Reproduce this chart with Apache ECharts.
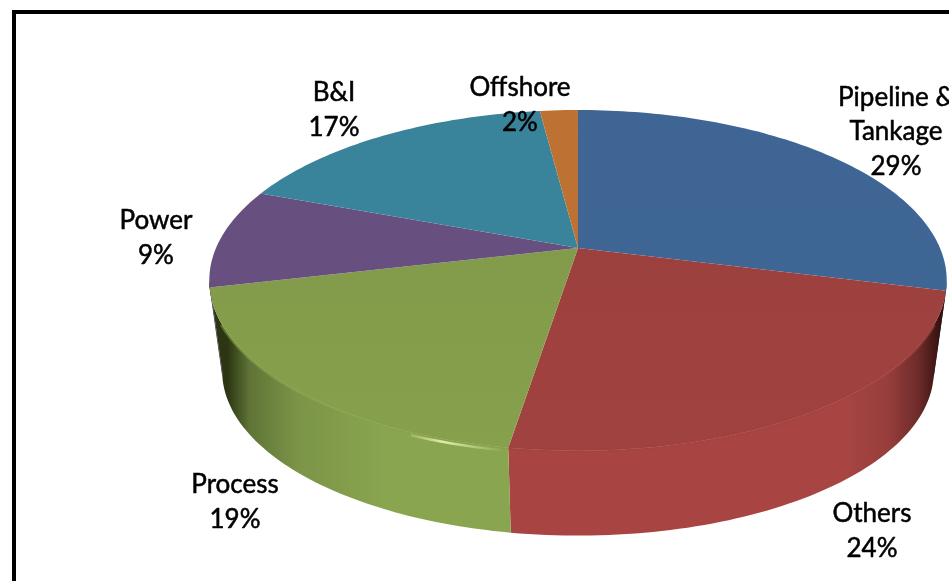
<!DOCTYPE html>
<html>
<head>
<meta charset="utf-8">
<title>Sector share</title>
<script src="https://cdn.jsdelivr.net/npm/echarts@6/dist/echarts.min.js"></script>
<style>
    html, body { margin: 0; padding: 0; background: #fff; overflow: hidden; }
    #main { width: 949px; height: 581px; }
</style>
</head>
<body>
<div id="main"></div>
<script>
    // clockwise from 12 o'clock, shares
    var names = ['Pipeline &\nTankage', 'Others', 'Process', 'Power', 'B&I', 'Offshore'];
    var shares = [29, 23.5, 18.8, 9.45, 17.25, 2];

    var topBack = ['#3e6593', '#9a3f3d', '#80984a', '#67507f', '#3a849b', '#bd7233'];
    var topFront = ['#3f6797', '#a04240', '#86a04c', '#67507f', '#3a849b', '#bd7233'];
    var wallLight = ['#3f6797', '#a84543', '#8aa550', '#67507f', '#3a849b', '#bd7233'];
    var wallSoft = ['#37597f', '#973e3c', '#7b9447', '#5a4670', '#33758a', '#a8652d'];
    var wallMid = ['#2e4b70', '#6f2c2a', '#5f7436', '#4a3a5c', '#2a6070', '#8a5425'];
    var wallDark = ['#1d3250', '#36120f', '#2c3612', '#2e2338', '#173a44', '#5a3315'];

    // pie geometry: tilted disc seen in perspective
    var apexX = 578, apexY = 248;
    var radiusX = 362, radiusY = 164.2, tilt = 0.19;
    var wallDrop = 92, bottomScale = 0.965;
    var labelSpots = [[896, 132], [872, 531], [235, 502], [156, 238], [334, 110], [520, 105]];

    var rows = [];
    var sum = 0;
    shares.forEach(function (v, i) {
        rows.push([i, sum, sum + v]);
        sum += v;
    });

    function discPoint(pct, scale, drop) {
        var t = pct / 100 * Math.PI * 2;
        var d = 1 + tilt * Math.cos(t);
        return [
            apexX + scale * radiusX * Math.sin(t) / d,
            apexY + drop - scale * radiusY * Math.cos(t) / d
        ];
    }

    function arc(from, to, scale, drop) {
        var pts = [];
        var n = Math.max(2, Math.ceil((to - from) * 3));
        for (var i = 0; i <= n; i++) {
            pts.push(discPoint(from + (to - from) * i / n, scale, drop));
        }
        return pts;
    }

    function shade(stops, x1, y1, x2, y2) {
        return { type: 'linear', global: true, x: x1, y: y1, x2: x2, y2: y2, colorStops: stops };
    }

    function renderWall(params, api) {
        var i = api.value(0);
        // only the front of the disc has a visible side
        var limitA = Math.acos(-tilt) / (Math.PI * 2) * 100;
        var from = Math.max(api.value(1), limitA);
        var to = Math.min(api.value(2), 100 - limitA);
        if (i === 2) to = 100 - limitA;
        if (to <= from) return null;
        var pts = arc(from, to, 1, 0).concat(arc(from, to, bottomScale, wallDrop).reverse());
        var fill = shade([
            { offset: 0, color: wallDark[i] },
            { offset: 0.025, color: wallDark[i] },
            { offset: 0.055, color: wallMid[i] },
            { offset: 0.12, color: wallSoft[i] },
            { offset: 0.24, color: wallLight[i] },
            { offset: 0.86, color: wallLight[i] },
            { offset: 0.92, color: wallSoft[i] },
            { offset: 0.96, color: wallMid[i] },
            { offset: 0.99, color: wallDark[i] },
            { offset: 1, color: wallDark[i] }
        ], apexX - 369, 0, apexX + 369, 0);
        return { type: 'polygon', shape: { points: pts }, style: { fill: fill } };
    }

    function renderTop(params, api) {
        var i = api.value(0);
        var pts = [[apexX, apexY]].concat(arc(api.value(1), api.value(2), 1, 0));
        var fill = shade([
            { offset: 0, color: topBack[i] },
            { offset: 1, color: topFront[i] }
        ], 0, apexY - 140, 0, apexY + 205);
        return { type: 'polygon', shape: { points: pts }, style: { fill: fill } };
    }

    // soft bevel between the top face and the side
    function renderRim(params, api) {
        var i = api.value(0);
        var limitA = Math.acos(-tilt) / (Math.PI * 2) * 100 + 4;
        var from = Math.max(api.value(1), limitA);
        var to = Math.min(api.value(2), 100 - limitA);
        if (to <= from) return null;
        return {
            type: 'polyline',
            shape: { points: arc(from, to, 1, 0) },
            style: { fill: 'none', stroke: topFront[i], lineWidth: 4, opacity: 0.55 }
        };
    }

    function renderLabel(params, api) {
        var i = api.value(0);
        return {
            type: 'text',
            x: labelSpots[i][0],
            y: labelSpots[i][1],
            style: {
                text: names[i] + '\n' + Math.round(shares[i]) + '%',
                fill: '#000',
                stroke: '#000',
                lineWidth: 0.5,
                font: '26px Lato',
                lineHeight: 34.5,
                align: 'center',
                verticalAlign: 'middle'
            }
        };
    }

    var chart = echarts.init(document.getElementById('main'));
    chart.setOption({
        animation: false,
        backgroundColor: '#fff',
        graphic: [
            {
                type: 'rect',
                shape: { x: 14, y: 12, width: 960, height: 600 },
                style: { fill: 'none', stroke: '#000', lineWidth: 4 }
            },
            {
                // glint on the front rim of the green slice
                type: 'polyline',
                z: 10,
                shape: { points: arc(52.8, 56.2, 1, 3) },
                style: {
                    fill: 'none',
                    lineWidth: 2.5,
                    stroke: shade([
                        { offset: 0, color: 'rgba(225,238,170,0)' },
                        { offset: 0.7, color: 'rgba(228,240,175,0.95)' },
                        { offset: 1, color: 'rgba(225,238,170,0.3)' }
                    ], 505, 0, 415, 0)
                }
            }
        ],
        series: [
            { type: 'custom', coordinateSystem: 'none', data: rows, renderItem: renderWall, z: 2, silent: true },
            { type: 'custom', coordinateSystem: 'none', data: rows, renderItem: renderTop, z: 3, silent: true },
            { type: 'custom', coordinateSystem: 'none', data: rows, renderItem: renderRim, z: 4, silent: true },
            { type: 'custom', coordinateSystem: 'none', data: rows, renderItem: renderLabel, z: 20, silent: true }
        ]
    });
</script>
</body>
</html>
